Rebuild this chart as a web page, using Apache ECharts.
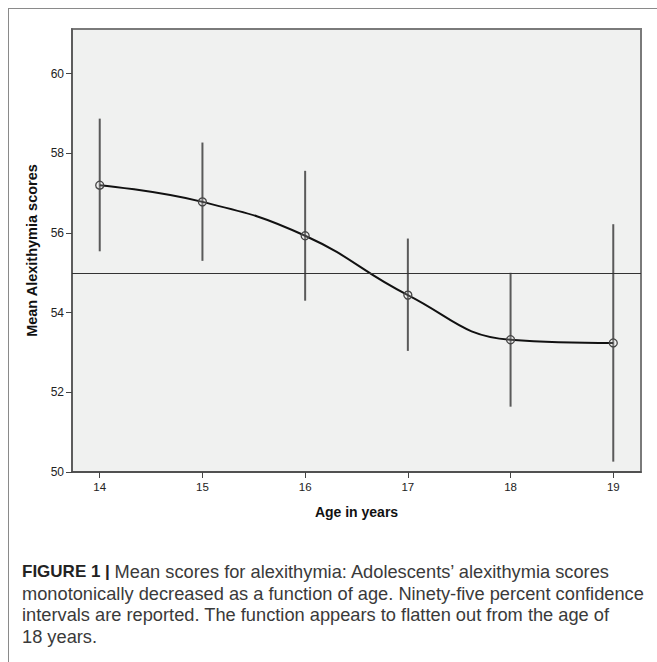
<!DOCTYPE html>
<html>
<head>
<meta charset="utf-8">
<script src="https://cdn.jsdelivr.net/npm/echarts@6/dist/echarts.min.js"></script>
<style>
  html, body { margin: 0; padding: 0; background: #fff; }
  #chart { width: 657px; height: 662px; }
</style>
</head>
<body>
<div id="chart"></div>
<script>
// ---- data ----
const ages = [14, 15, 16, 17, 18, 19];
const meanScores = [57.20, 56.78, 55.93, 54.44, 53.32, 53.24];
const ciLower = [55.54, 55.30, 54.30, 53.04, 51.64, 50.26];
const ciUpper = [58.87, 58.27, 57.56, 55.86, 55.00, 56.22];
const yTicks = [50, 52, 54, 56, 58, 60];
const xTicks = [14, 15, 16, 17, 18, 19];
const referenceLevel = 55;
const xTitle = 'Age in years';
const yTitle = 'Mean Alexithymia scores';
const captionFirstBold = 'FIGURE 1';
const captionFirstRest = 'Mean scores for alexithymia: Adolescents\u2019 alexithymia scores';
const captionLines = [
  'monotonically decreased as a function of age. Ninety-five percent confidence',
  'intervals are reported. The function appears to flatten out from the age of',
  '18 years.'
];

// ---- fit caption font so the widest line spans like the reference ----
const regFamily = '"Liberation Sans", Arial, sans-serif';
const boldFamily = '"Liberation Sans", Arial, sans-serif';
const mctx = document.createElement('canvas').getContext('2d');
mctx.font = '16px ' + regFamily;
const w16 = mctx.measureText(captionLines[0]).width;
const regSize = Math.max(14, Math.min(20, 16 * 622 / w16));

const chart = echarts.init(document.getElementById('chart'), null, { renderer: 'svg' });

const lineData = ages.map((a, i) => [a, meanScores[i]]);
const barData = ages.map((a, i) => [a, ciLower[i], ciUpper[i]]);

const captionGraphics = [
  {
    type: 'text', left: 22, top: 562,
    style: {
      text: '{b|' + captionFirstBold + '}{s| | }{r|' + captionFirstRest + '}',
      rich: {
        b: { fontFamily: boldFamily, fontSize: 17, fontWeight: 'bold', fill: '#222', lineHeight: 20 },
        s: { fontFamily: boldFamily, fontSize: 17, fontWeight: 'bold', fill: '#222', lineHeight: 20 },
        r: { fontFamily: regFamily, fontSize: regSize, fill: '#3a3a3a', lineHeight: 20 }
      }
    }
  }
].concat(captionLines.map((t, i) => ({
  type: 'text', left: 22, top: 583 + i * 21.8,
  style: { text: t, fontFamily: regFamily, fontSize: regSize, fill: '#3a3a3a', lineHeight: 20 }
})));

const option = {
  backgroundColor: '#fff',
  animation: false,
  grid: {
    left: 72, top: 29, right: 16, bottom: 190,
    show: true, backgroundColor: '#f0f1f0', borderColor: '#7a7a7a', borderWidth: 2
  },
  xAxis: {
    type: 'value', min: 13.73, max: 19.27,
    name: xTitle, nameLocation: 'middle', nameGap: 33,
    nameTextStyle: { fontFamily: '"Liberation Sans", Arial, sans-serif', fontWeight: 'bold', fontSize: 14, color: '#111' },
    axisLine: { show: true, onZero: false, lineStyle: { color: '#444', width: 1.5 } },
    axisTick: { show: true, length: 6, customValues: xTicks, lineStyle: { color: '#444' } },
    axisLabel: { customValues: xTicks, margin: 9, fontSize: 11.5, color: '#222', fontFamily: '"Liberation Sans", Arial, sans-serif' },
    splitLine: { show: false }
  },
  yAxis: {
    type: 'value', min: 50, max: 61.12,
    name: yTitle, nameLocation: 'middle', nameGap: 30, nameRotate: 90,
    nameTextStyle: { fontFamily: '"Liberation Sans", Arial, sans-serif', fontWeight: 'bold', fontSize: 14.5, color: '#111' },
    axisLine: { show: true, onZero: false, lineStyle: { color: '#555', width: 1.5 } },
    axisTick: { show: true, length: 6, customValues: yTicks, lineStyle: { color: '#444' } },
    axisLabel: { customValues: yTicks, margin: 8, fontSize: 12, color: '#222', fontFamily: '"Liberation Sans", Arial, sans-serif' },
    splitLine: { show: false }
  },
  graphic: [
    { type: 'line', shape: { x1: 8.5, y1: 8, x2: 8.5, y2: 662 }, style: { stroke: '#8a8a8a', lineWidth: 1 } },
    { type: 'line', shape: { x1: 8, y1: 8.5, x2: 657, y2: 8.5 }, style: { stroke: '#8a8a8a', lineWidth: 1 } }
  ].concat(captionGraphics),
  series: [
    {
      type: 'custom',
      data: barData,
      z: 2,
      renderItem: function (params, api) {
        const x = api.value(0);
        const lo = api.coord([x, api.value(1)]);
        const hi = api.coord([x, api.value(2)]);
        return {
          type: 'line',
          shape: { x1: lo[0], y1: lo[1], x2: hi[0], y2: hi[1] },
          style: { stroke: '#5a5a5a', lineWidth: 2 }
        };
      }
    },
    {
      type: 'line',
      data: lineData,
      smooth: 0.45,
      z: 3,
      symbol: 'circle',
      symbolSize: 8,
      itemStyle: { color: 'rgba(240,241,240,0.2)', borderColor: '#444', borderWidth: 1.3 },
      lineStyle: { color: '#111', width: 2 },
      markLine: {
        silent: true,
        symbol: 'none',
        label: { show: false },
        lineStyle: { color: '#333', width: 1.2, type: 'solid' },
        data: [{ yAxis: referenceLevel }]
      }
    }
  ]
};
chart.setOption(option);
</script>
</body>
</html>
